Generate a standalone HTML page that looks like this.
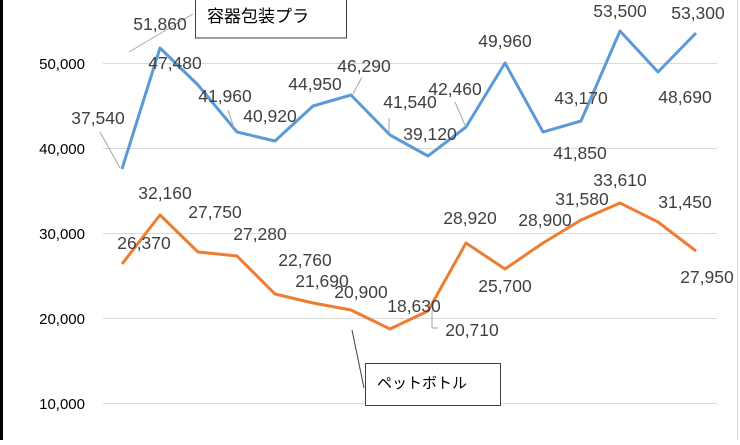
<!DOCTYPE html>
<html><head><meta charset="utf-8"><style>
body{margin:0;background:#fff}
svg text{font-family:"Liberation Sans","Noto Sans CJK JP",sans-serif}
</style></head><body>
<svg width="740" height="440" xmlns="http://www.w3.org/2000/svg">
<rect x="0" y="0" width="740" height="440" fill="#fff"/>
<rect x="0" y="0" width="3" height="440" fill="#000"/>
<line x1="737.5" y1="0" x2="737.5" y2="440" stroke="#d9d9d9"/>
<g stroke="#d9d9d9" stroke-width="1">
<line x1="103" y1="63.5" x2="717" y2="63.5"/>
<line x1="103" y1="148.5" x2="717" y2="148.5"/>
<line x1="103" y1="233.5" x2="717" y2="233.5"/>
<line x1="103" y1="318.5" x2="717" y2="318.5"/>
<line x1="103" y1="403.5" x2="717" y2="403.5"/>
</g>
<g font-size="15" fill="#000" text-anchor="end">
<text x="85" y="69">50,000</text>
<text x="85" y="154">40,000</text>
<text x="85" y="239">30,000</text>
<text x="85" y="324">20,000</text>
<text x="85" y="409">10,000</text>
</g>
<polyline fill="none" stroke="#5b9bd5" stroke-width="3" stroke-linejoin="round" points="122,169 160,48 198,85 237,132 275,141 313,106 351,95 390,135 428,156 466,127 505,63 543,132 581,121 620,31 658,72 696,33"/>
<polyline fill="none" stroke="#ed7d31" stroke-width="3" stroke-linejoin="round" points="122,264 160,215 198,252 237,256 275,294 313,303 351,310 390,329 428,311 466,243 505,269 543,243 581,220 620,203 658,222 696,251"/>
<g stroke="#a6a6a6" stroke-width="1" fill="none">
<line x1="129" y1="52" x2="193" y2="14"/>
<line x1="100" y1="132" x2="120" y2="168"/>
<line x1="228" y1="110" x2="234" y2="128"/>
<line x1="362" y1="77" x2="353" y2="94"/>
<line x1="389" y1="118" x2="389" y2="132"/>
<line x1="455" y1="102" x2="465" y2="125"/>
<polyline points="432,311 432,328 438,328"/>
<line x1="352" y1="330" x2="364" y2="388" stroke="#404040"/>
</g>
<g font-size="17.5" fill="#404040" text-anchor="middle">
<text x="98" y="124">37,540</text>
<text x="160" y="30">51,860</text>
<text x="175" y="69">47,480</text>
<text x="225" y="102">41,960</text>
<text x="270" y="122">40,920</text>
<text x="315" y="90">44,950</text>
<text x="364" y="72">46,290</text>
<text x="410" y="108">41,540</text>
<text x="430" y="140">39,120</text>
<text x="455" y="95">42,460</text>
<text x="505" y="47">49,960</text>
<text x="580" y="159">41,850</text>
<text x="581" y="104">43,170</text>
<text x="620" y="17">53,500</text>
<text x="685" y="103">48,690</text>
<text x="698" y="19">53,300</text>
<text x="144" y="249">26,370</text>
<text x="165" y="199">32,160</text>
<text x="215" y="218">27,750</text>
<text x="260" y="240">27,280</text>
<text x="305" y="266">22,760</text>
<text x="322" y="287">21,690</text>
<text x="361" y="298">20,900</text>
<text x="414" y="312">18,630</text>
<text x="472" y="336">20,710</text>
<text x="470" y="224">28,920</text>
<text x="505" y="292">25,700</text>
<text x="545" y="226">28,900</text>
<text x="582" y="205">31,580</text>
<text x="620" y="186">33,610</text>
<text x="685" y="208">31,450</text>
<text x="707" y="283">27,950</text>
</g>
<rect x="195.5" y="-1" width="151" height="39" fill="#fff" stroke="#404040"/>
<text x="207" y="22" font-size="17" fill="#000">容器包装プラ</text>
<rect x="365.5" y="363.5" width="135" height="42" fill="#fff" stroke="#404040"/>
<text x="377" y="388" font-size="15" fill="#000">ペットボトル</text>
</svg>
</body></html>
